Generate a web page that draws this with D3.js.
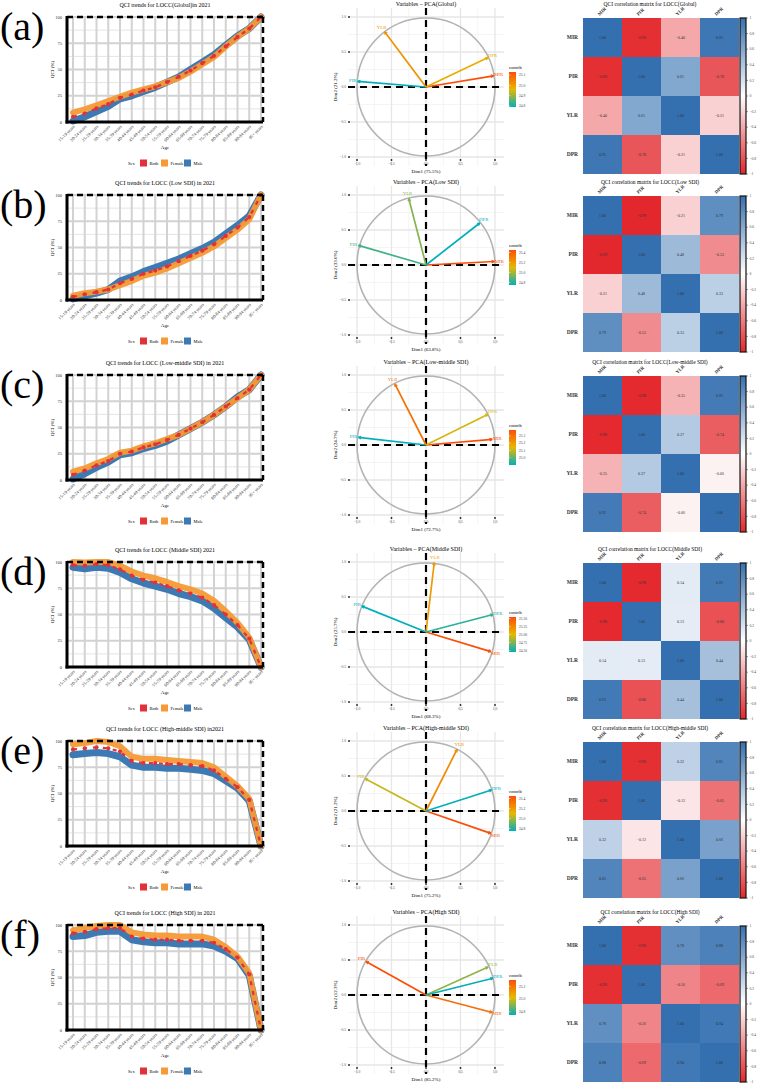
<!DOCTYPE html>
<html>
<head>
<meta charset="utf-8">
<script src="https://cdn.jsdelivr.net/npm/d3@7"></script>
<style>
  body { margin: 0; background: #fff; }
  text { font-family: "Liberation Serif", "DejaVu Serif", serif; }
</style>
</head>
<body>
<svg id="fig" width="757" height="1084"></svg>
<script>
// ---- data ----
const ages = ['15-19 years','20-24 years','25-29 years','30-34 years','35-39 years','40-44 years',
  '45-49 years','50-54 years','55-59 years','60-64 years','65-69 years','70-74 years','75-79 years',
  '80-84 years','85-89 years','90-94 years','95+ years']
const regions = ['Global','Low SDI','Low-middle SDI','Middle SDI','High-middle SDI','High SDI']
const panelLetters = ['(a)','(b)','(c)','(d)','(e)','(f)']
const trendTitles = [
  'QCI trends for LOCC(Global)in 2021',
  'QCI trends for LOCC (Low SDI) in 2021',
  'QCI trends for LOCC  (Low-middle SDI) in 2021',
  'QCI trends for LOCC (Middle SDI) 2021',
  'QCI trends for LOCC (High-middle SDI) in2021',
  'QCI trends for LOCC (High SDI) in 2021'
]
const bothQci = [
  [5,8,13,17,23,26,30,33,38,43,49,56,63,72,81,89,100],
  [3,5.5,7.5,10,16,20,25,28,32,37,42,47,53,61,69,79,100],
  [5,9,14,18,25,27,31,34,38,43,49,55,62,70,78,86,100],
  [97,96.5,98,97,93,87,83,80.5,77,73,70,66,59,50,40,27,0],
  [92,93,94,93,90,81,79,79,78,78,77,76,72,64,56,44,0],
  [92,93.5,96,97,97,89,87,86,86,85,85,85,83,77,69,53,0]
]
const femaleQci = [
  [9,12,16,20,24,28,31,34,38,42,48,55,62,72,81,89,100],
  [4,6.5,8,10,14,18,23,26,30,35,40,45,51,59,67,77,100],
  [8,11,16,20,26,28,32,35,39,43,49,55,62,70,78,86,100],
  [100,99.5,100,100,96.5,91,87,84.5,81,77,74,70,63,53,42,28,0],
  [97,98,100,99,95,85,83,83,82,81,80,79,75,66,57,45,0],
  [95,97,99,100,100,93,91,90,90,89,89,89,86,79,70,54,0]
]
const maleQci = [
  [1,5,10,15,22,25,29,33,38,43,50,57,64,73,82,89,100],
  [1,4,6.5,10,18,22,27,31,35,39,44,49,55,63,71,80,100],
  [1,6,12,17,24,26,30,33,37,43,49,55,62,70,79,86,100],
  [95,93.5,95,94,90,84,80,77,74,70,67,63,56,47,38,26,0],
  [87,88,89,88,85,77,75,75,74,74,73,72,69,62,55,43,0],
  [89,90,93,94,94,86,84,83,83,82,82,82,80,75,68,52,0]
]
const sexes = ['Both','Female','Male']
const sexColors = ['#e2313a','#f59a35','#3d7ab3']

const pcaTitles = regions.map(r => 'Variables \u2013 PCA(' + r + ')')
const pcaVars = ['MIR','PIR','YLR','DPR']
const pcaDim1 = [
  [0.98,-0.99,-0.60,0.90],
  [0.99,-0.98,-0.25,0.78],
  [0.96,-0.98,-0.45,0.90],
  [0.94,-0.93,0.12,0.97],
  [0.94,-0.88,0.45,0.95],
  [0.96,-0.87,0.90,0.97]
]
const pcaDim2 = [
  [0.16,0.08,0.79,0.42],
  [0.05,0.28,0.95,0.60],
  [0.08,0.11,0.87,0.44],
  [-0.28,0.37,0.99,0.25],
  [-0.32,0.46,0.88,0.30],
  [-0.25,0.48,0.40,0.24]
]
const dimPct1 = [75.5, 63.8, 72.7, 68.3, 75.2, 85.2]
const dimPct2 = [21.2, 33.6, 24.7, 25.7, 21.2, 12.3]
const contrib = [
  [25.13,24.79,25.02,24.98],
  [25.45,24.85,24.95,24.75],
  [25.38,24.90,25.30,25.12],
  [25.55,24.45,25.15,24.55],
  [25.45,25.05,25.25,24.75],
  [25.22,25.30,24.92,24.75]
]
const contribTicks = [
  [24.8,24.9,25.0,25.1],
  [24.8,25.0,25.2,25.4],
  [25.0,25.1,25.2,25.3],
  [24.5,24.75,25.0,25.25,25.5],
  [24.8,25.0,25.2,25.4],
  [24.8,25.0,25.2]
]
const pcaTicks = [-1, -0.5, 0, 0.5, 1]

const corrTitles = regions.map(r => 'QCI correlation matrix for LOCC(' + r + ')')
const corrVars = ['MIR','PIR','YLR','DPR']
const corrMatrices = [
  [[1,-0.96,-0.40,0.95],[-0.96,1,0.61,-0.78],[-0.40,0.61,1,-0.21],[0.95,-0.78,-0.21,1]],
  [[1,-0.99,-0.21,0.79],[-0.99,1,0.48,-0.53],[-0.21,0.48,1,0.33],[0.79,-0.53,0.33,1]],
  [[1,-0.98,-0.35,0.92],[-0.98,1,0.37,-0.74],[-0.35,0.37,1,-0.06],[0.92,-0.74,-0.06,1]],
  [[1,-0.98,0.14,0.93],[-0.98,1,0.13,-0.80],[0.14,0.13,1,0.44],[0.93,-0.80,0.44,1]],
  [[1,-0.96,0.32,0.85],[-0.96,1,-0.12,-0.65],[0.32,-0.12,1,0.66],[0.85,-0.65,0.66,1]],
  [[1,-0.96,0.78,0.88],[-0.96,1,-0.56,-0.69],[0.78,-0.56,1,0.94],[0.88,-0.69,0.94,1]]
]
const corrTicks = [1,0.8,0.6,0.4,0.2,0,-0.2,-0.4,-0.6,-0.8,-1]

const rowTops = [0, 178, 358, 545, 724, 908]

// ---- drawing ----
const svg = d3.select('#fig')
const defs = svg.append('defs')

function drawTrend(g, i) {
  const x = d3.scalePoint().domain(ages).range([73, 261])
  const y = d3.scaleLinear().domain([0, 100]).range([122, 17])
  const left = 67, right = 263

  // grid
  g.append('g').selectAll('line').data([12.5, 37.5, 62.5, 87.5]).join('line')
    .attr('x1', left).attr('x2', right).attr('y1', d => y(d)).attr('y2', d => y(d))
    .attr('stroke', '#e4e4e4').attr('stroke-width', 1)
  g.append('g').selectAll('line').data([0, 25, 50, 75, 100]).join('line')
    .attr('x1', left).attr('x2', right).attr('y1', d => y(d)).attr('y2', d => y(d))
    .attr('stroke', '#d2d2d2').attr('stroke-width', 2)
  g.append('g').selectAll('line').data(ages).join('line')
    .attr('x1', d => x(d)).attr('x2', d => x(d)).attr('y1', y(0)).attr('y2', y(100))
    .attr('stroke', '#d2d2d2').attr('stroke-width', 2)

  const line = d3.line().x((d, k) => x(ages[k])).y(d => y(d)).curve(d3.curveLinear)
  g.append('path').datum(maleQci[i]).attr('d', line)
    .attr('fill', 'none').attr('stroke', sexColors[2]).attr('stroke-width', 7)
    .attr('stroke-linejoin', 'round').attr('stroke-linecap', 'round')
  g.append('path').datum(femaleQci[i]).attr('d', line)
    .attr('fill', 'none').attr('stroke', sexColors[1]).attr('stroke-width', 6)
    .attr('stroke-linejoin', 'round').attr('stroke-linecap', 'round').attr('stroke-opacity', 0.95)
  g.append('path').datum(bothQci[i]).attr('d', line)
    .attr('fill', 'none').attr('stroke', sexColors[0]).attr('stroke-width', 2.2)
    .attr('stroke-dasharray', '4,6')
  g.append('g').selectAll('circle').data(bothQci[i]).join('circle')
    .attr('cx', (d, k) => x(ages[k])).attr('cy', d => y(d)).attr('r', 2.1)
    .attr('fill', sexColors[0])

  // frame
  g.append('line').attr('x1', left).attr('x2', right).attr('y1', y(100)).attr('y2', y(100))
    .attr('stroke', '#000').attr('stroke-width', 2.5).attr('stroke-dasharray', '6,4')
  g.append('line').attr('x1', right).attr('x2', right).attr('y1', y(100)).attr('y2', y(0))
    .attr('stroke', '#000').attr('stroke-width', 2.5).attr('stroke-dasharray', '6,4')
  g.append('line').attr('x1', left).attr('x2', left).attr('y1', y(100) - 1).attr('y2', y(0) + 1.5)
    .attr('stroke', '#000').attr('stroke-width', 3)
  g.append('line').attr('x1', left - 1.5).attr('x2', right).attr('y1', y(0)).attr('y2', y(0))
    .attr('stroke', '#000').attr('stroke-width', 3)

  // axes text
  g.append('g').selectAll('text').data([0, 25, 50, 75, 100]).join('text')
    .attr('x', 62).attr('y', d => y(d) + 1.5).attr('text-anchor', 'end')
    .attr('font-size', 4.5).attr('fill', '#333').text(d => d)
  g.append('g').selectAll('text').data(ages).join('text')
    .attr('transform', d => `translate(${x(d) + 2},${y(0) + 5}) rotate(-45)`)
    .attr('text-anchor', 'end').attr('font-size', 4.5).attr('fill', '#333').text(d => d)
  g.append('text').attr('transform', `translate(54,${(y(0) + y(100)) / 2}) rotate(-90)`)
    .attr('text-anchor', 'middle').attr('font-size', 5).text('QCI (%)')
  g.append('text').attr('x', 165).attr('y', 149).attr('text-anchor', 'middle')
    .attr('font-size', 5).text('Age')
  g.append('text').attr('x', 165).attr('y', 7).attr('text-anchor', 'middle')
    .attr('font-size', 6).text(trendTitles[i])

  // legend
  const lg = g.append('g').attr('transform', 'translate(128,163)')
  lg.append('text').attr('x', 0).attr('y', 1.6).attr('font-size', 4.5).text('Sex')
  const offs = [12, 33, 56]
  sexes.forEach((s, k) => {
    lg.append('rect').attr('x', offs[k]).attr('y', -3.5).attr('width', 7).attr('height', 7)
      .attr('fill', sexColors[k])
    lg.append('text').attr('x', offs[k] + 9.5).attr('y', 1.6).attr('font-size', 4.5).text(s)
  })

  g.append('text').attr('x', 0).attr('y', 40).attr('font-size', 40).text(panelLetters[i])
}

function drawPca(g, i) {
  const x = d3.scaleLinear().domain([-1, 1]).range([357, 495])
  const y = d3.scaleLinear().domain([-1, 1]).range([157, 17])
  const lo = -1.13, hi = 1.13

  const minor = [-0.75, -0.25, 0.25, 0.75]
  g.append('g').selectAll('line').data(minor).join('line')
    .attr('x1', x(lo)).attr('x2', x(hi)).attr('y1', d => y(d)).attr('y2', d => y(d))
    .attr('stroke', '#f1f1f1').attr('stroke-width', 0.8)
  g.append('g').selectAll('line').data(minor).join('line')
    .attr('y1', y(lo)).attr('y2', y(hi)).attr('x1', d => x(d)).attr('x2', d => x(d))
    .attr('stroke', '#f1f1f1').attr('stroke-width', 0.8)
  g.append('g').selectAll('line').data(pcaTicks).join('line')
    .attr('x1', x(lo)).attr('x2', x(hi)).attr('y1', d => y(d)).attr('y2', d => y(d))
    .attr('stroke', '#e6e6e6').attr('stroke-width', 1.3)
  g.append('g').selectAll('line').data(pcaTicks).join('line')
    .attr('y1', y(lo)).attr('y2', y(hi)).attr('x1', d => x(d)).attr('x2', d => x(d))
    .attr('stroke', '#e6e6e6').attr('stroke-width', 1.3)

  // tick labels + tiny marks
  const fmt = d3.format('.1f')
  g.append('g').selectAll('text').data(pcaTicks).join('text')
    .attr('x', d => x(d)).attr('y', 165).attr('text-anchor', 'middle')
    .attr('font-size', 3.6).attr('fill', '#555').text(d => fmt(d))
  g.append('g').selectAll('circle').data(pcaTicks).join('circle')
    .attr('cx', d => x(d)).attr('cy', 160).attr('r', 0.9).attr('fill', '#222')
  g.append('g').selectAll('text').data(pcaTicks).join('text')
    .attr('x', 346).attr('y', d => y(d) + 1.2).attr('text-anchor', 'end')
    .attr('font-size', 3.6).attr('fill', '#555').text(d => fmt(d))
  g.append('g').selectAll('circle').data(pcaTicks).join('circle')
    .attr('cx', 349).attr('cy', d => y(d)).attr('r', 0.9).attr('fill', '#222')

  // circle
  g.append('circle').attr('cx', x(0)).attr('cy', y(0)).attr('r', x(1) - x(0))
    .attr('fill', 'none').attr('stroke', '#b3b3b3').attr('stroke-width', 1.6)

  // dashed axes
  g.append('line').attr('x1', x(lo)).attr('x2', x(hi)).attr('y1', y(0)).attr('y2', y(0))
    .attr('stroke', '#000').attr('stroke-width', 2.2).attr('stroke-dasharray', '7,5')
  g.append('line').attr('y1', y(hi)).attr('y2', y(lo)).attr('x1', x(0)).attr('x2', x(0))
    .attr('stroke', '#000').attr('stroke-width', 2.2).attr('stroke-dasharray', '7,5')

  // arrows
  const c = contrib[i]
  const ext = d3.extent(c)
  const col = d3.scaleLinear().domain([ext[0], (ext[0] + ext[1]) / 2, ext[1]])
    .range(['#00AFBB', '#E7B800', '#FC4E07'])
  pcaVars.forEach((v, k) => {
    const px = x(pcaDim1[i][k]), py = y(pcaDim2[i][k])
    const ang = Math.atan2(py - y(0), px - x(0))
    const color = col(c[k])
    g.append('line').attr('x1', x(0)).attr('y1', y(0)).attr('x2', px).attr('y2', py)
      .attr('stroke', color).attr('stroke-width', 1.7)
    const a1 = ang + Math.PI * 0.85, a2 = ang - Math.PI * 0.85
    g.append('path')
      .attr('d', `M${px},${py}L${px + 3 * Math.cos(a1)},${py + 3 * Math.sin(a1)}M${px},${py}L${px + 3 * Math.cos(a2)},${py + 3 * Math.sin(a2)}`)
      .attr('stroke', color).attr('stroke-width', 1.2).attr('fill', 'none')
    g.append('text').attr('x', px + 5 * Math.cos(ang)).attr('y', py + 5 * Math.sin(ang) + 1.5)
      .attr('text-anchor', 'middle').attr('font-size', 4.8).attr('fill', color).text(v)
  })

  // titles
  g.append('text').attr('x', 426).attr('y', 6).attr('text-anchor', 'middle')
    .attr('font-size', 6).text(pcaTitles[i])
  g.append('text').attr('x', 426).attr('y', 173).attr('text-anchor', 'middle')
    .attr('font-size', 5).text(`Dim1 (${dimPct1[i]}%)`)
  g.append('text').attr('transform', `translate(337,${y(0)}) rotate(-90)`)
    .attr('text-anchor', 'middle').attr('font-size', 5).text(`Dim2 (${dimPct2[i]}%)`)

  // contrib colorbar
  const gid = 'contrib' + i
  const grad = defs.append('linearGradient').attr('id', gid)
    .attr('x1', 0).attr('x2', 0).attr('y1', 1).attr('y2', 0)
  grad.selectAll('stop').data([0, 0.5, 1]).join('stop')
    .attr('offset', d => d).attr('stop-color', d => col(ext[0] + d * (ext[1] - ext[0])))
  const cb = d3.scaleLinear().domain(ext).range([107, 72])
  g.append('text').attr('x', 509).attr('y', 69).attr('font-size', 4.5).text('contrib')
  g.append('rect').attr('x', 509).attr('y', 72).attr('width', 7).attr('height', 35)
    .attr('fill', `url(#${gid})`)
  const tf = i === 3 ? d3.format('.2f') : d3.format('.1f')
  g.append('g').selectAll('line').data(contribTicks[i]).join('line')
    .attr('x1', 509).attr('x2', 510.5).attr('y1', d => cb(d)).attr('y2', d => cb(d))
    .attr('stroke', '#fff').attr('stroke-width', 0.5)
  g.append('g').selectAll('text').data(contribTicks[i]).join('text')
    .attr('x', 519).attr('y', d => cb(d) + 1.3).attr('font-size', 3.6).attr('fill', '#444')
    .text(d => tf(d))
}

function drawCorr(g, i) {
  const x = d3.scaleBand().domain(corrVars).range([583, 739])
  const y = d3.scaleBand().domain(corrVars).range([18, 174])
  const col = d3.scaleLinear().domain([-1, 0, 1]).range(['#e3262b', '#ffffff', '#3470b0'])
  const cells = []
  corrVars.forEach((r, a) => corrVars.forEach((cName, b) => cells.push({ r, c: cName, v: corrMatrices[i][a][b] })))

  g.append('g').selectAll('rect').data(cells).join('rect')
    .attr('x', d => x(d.c)).attr('y', d => y(d.r))
    .attr('width', x.bandwidth()).attr('height', y.bandwidth())
    .attr('fill', d => col(d.v))
  const fmt = d3.format('.2f')
  g.append('g').selectAll('text').data(cells).join('text')
    .attr('x', d => x(d.c) + x.bandwidth() / 2).attr('y', d => y(d.r) + y.bandwidth() / 2 + 1.3)
    .attr('text-anchor', 'middle').attr('font-size', 4).attr('fill', '#333')
    .text(d => fmt(d.v))

  g.append('g').selectAll('text').data(corrVars).join('text')
    .attr('x', 578).attr('y', d => y(d) + y.bandwidth() / 2 + 1.8).attr('text-anchor', 'end')
    .attr('font-size', 5.5).attr('font-weight', 'bold').attr('fill', '#333').text(d => d)
  g.append('g').selectAll('text').data(corrVars).join('text')
    .attr('transform', d => `translate(${x(d) + x.bandwidth() / 2 - 3},${16}) rotate(-45)`)
    .attr('font-size', 4.8).attr('font-weight', 'bold').attr('fill', '#333').text(d => d)

  g.append('text').attr('x', 650).attr('y', 5.5).attr('text-anchor', 'middle')
    .attr('font-size', 5.5).text(corrTitles[i])

  // colorbar
  const gid = 'corr' + i
  const grad = defs.append('linearGradient').attr('id', gid)
    .attr('x1', 0).attr('x2', 0).attr('y1', 1).attr('y2', 0)
  grad.selectAll('stop').data([-1, 0, 1]).join('stop')
    .attr('offset', d => (d + 1) / 2).attr('stop-color', d => col(d))
  const cb = d3.scaleLinear().domain([-1, 1]).range([174, 18])
  g.append('rect').attr('x', 740).attr('y', 18).attr('width', 6).attr('height', 156)
    .attr('fill', `url(#${gid})`).attr('stroke', '#111').attr('stroke-width', 1.2)
  g.append('g').selectAll('line').data(corrTicks).join('line')
    .attr('x1', 746).attr('x2', 748).attr('y1', d => cb(d)).attr('y2', d => cb(d))
    .attr('stroke', '#333').attr('stroke-width', 0.5)
  g.append('g').selectAll('text').data(corrTicks).join('text')
    .attr('x', 749.5).attr('y', d => cb(d) + 1.2).attr('font-size', 3.6).attr('fill', '#444')
    .text(d => d3.format('')(d).replace('-', '\u2212'))
}

regions.forEach((r, i) => {
  const g = svg.append('g').attr('transform', `translate(0,${rowTops[i]})`)
  drawTrend(g, i)
  drawPca(g, i)
  drawCorr(g, i)
})
</script>
</body>
</html>
